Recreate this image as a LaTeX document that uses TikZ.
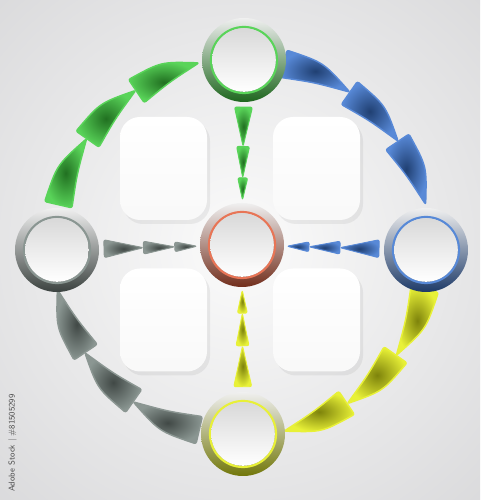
\documentclass[tikz,border=0pt]{standalone}
\usetikzlibrary{calc,shadows}
\definecolor{cgreen}{HTML}{3CCC3C}
\definecolor{cblue}{HTML}{3A74D0}
\definecolor{cyellow}{HTML}{E4EE14}
\definecolor{cgray}{HTML}{76847F}
\definecolor{cred}{HTML}{E45C38}
\definecolor{backgray}{HTML}{D4D4D6}
\begin{document}
\begin{tikzpicture}
[x=1pt,y=1pt,
 ringdecorate/.style={shape=circle,inner sep=0pt,minimum size=84pt,
   top color=gray!12,bottom color=#1!50!black},
 paperdecorate/.style={shape=rectangle,rounded corners=20pt,minimum width=87pt,
   minimum height=103pt,top color=white,bottom color=gray!5,
   drop shadow={opacity=0.12,shadow xshift=3pt,shadow yshift=-4pt}},
 piecedecorate/.style={draw=#1!85!white,line width=1.4pt,line join=round,
   rounded corners=2pt,inner color=#1!55!black,outer color=#1!85!white}]
\useasboundingbox (0,0) rectangle (480,500);
%% background
\begin{scope}
\clip (0,0) rectangle (480,500);
\fill[backgray] (0,0) rectangle (480,500);
\shade[inner color=gray!3,outer color=backgray] (241.5,253) circle (420);
\end{scope}
\coordinate (hub) at (241.5,253);
%% note cards
\foreach \nodename/\x/\y in {ptl/163.5/331.5, ptr/316.5/331.5, pbl/163.5/180,
  pbr/316.5/180}
{
  \node (\nodename) at (\x,\y) [paperdecorate] {};
}
%% outer arc pieces, clockwise
\foreach \start/\col in {180/cgreen, 90/cblue, 0/cyellow, 270/cgray}
{
  \foreach \a/\b in {13/35, 35/56, 56/77}
  {
    \path[piecedecorate=\col]
      ($(hub)+(\start-\a:202)$) .. controls ($(hub)+(\start-\a/2-\b/2:202)$)
      .. ($(hub)+(\start-\b:189)$) .. controls ($(hub)+(\start-\a/2-\b/2:180)$)
      .. ($(hub)+(\start-\a:174)$) -- cycle;
  }
}
%% rings
\foreach \nodename/\x/\y/\col in {top/244/440/cgreen, rgt/426/250/cblue,
  bot/243/66/cyellow, lft/57/250/cgray, ctr/242/255/cred}
{
  \node (\nodename) at (\x,\y) [ringdecorate=\col] {};
  \draw[\col!85!white,line width=2.2pt] (\nodename) circle (33);
  \shade[top color=gray!30,bottom color=white] (\nodename) circle (31.8);
}
%% inner arrows towards the centre
\foreach \src/\col in {top/cgreen, rgt/cblue, bot/cyellow, lft/cgray}
{
  \coordinate (s) at ($(\src)!42pt!(ctr)$);
  \coordinate (e) at ($(ctr)!42pt!(\src)$);
  \foreach \a/\b/\w in {0.05/0.44/9, 0.44/0.75/6.5, 0.75/0.97/5}
  {
    \coordinate (p) at ($(s)!\a!(e)$);
    \coordinate (q) at ($(s)!\b!(e)$);
    \path[piecedecorate=\col,line width=0.9pt]
      ($(p)!\w pt!90:(q)$) -- (q) -- ($(p)!\w pt!-90:(q)$) -- cycle;
  }
}
%% stock label
\node (stock) at (12.5,57) [rotate=90,text=black!70,
  font=\fontsize{8.5}{9}\selectfont\sffamily] {Adobe Stock | \#81505299};
\end{tikzpicture}
\end{document}
